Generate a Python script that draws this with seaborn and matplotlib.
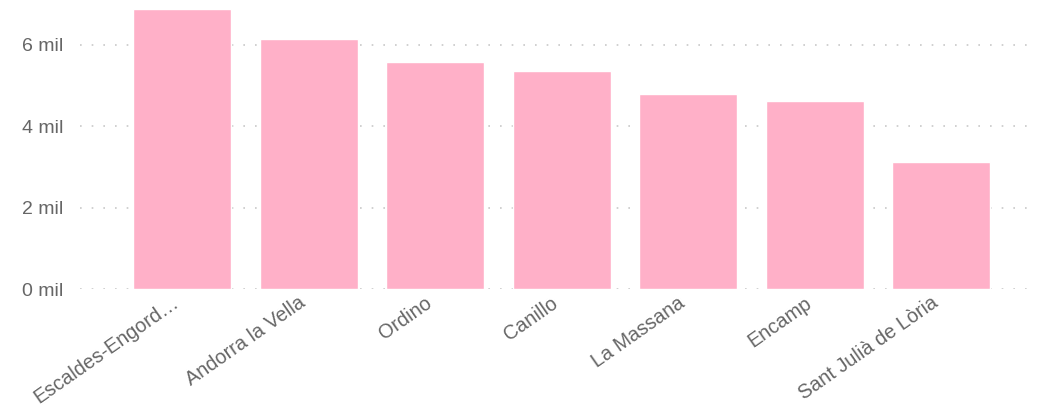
import matplotlib
matplotlib.use("Agg")
import matplotlib.pyplot as plt
import seaborn as sns
import pandas as pd

categories = ["Escaldes-Engord…", "Andorra la Vella", "Ordino", "Canillo",
              "La Massana", "Encamp", "Sant Julià de Lòria"]
values = [6885, 6150, 5580, 5360, 4790, 4620, 3120]
yticks = [0, 2000, 4000, 6000]
ytick_labels = ["0 mil", "2 mil", "4 mil", "6 mil"]

sns.set_theme(style="white")
plt.rcParams['font.family'] = ['Liberation Sans', 'DejaVu Sans']

fig = plt.figure(figsize=(10.42, 4.09), dpi=100)
ax = fig.add_axes([80/1042, 1-289/409, (1030-80)/1042, (289-4.3)/409])

df = pd.DataFrame({"cat": categories, "val": values})
sns.barplot(data=df, x="cat", y="val", color="#FFB0C8", saturation=1,
            width=0.775, ax=ax, zorder=2)

ax.set_ylim(0, 7000)
ax.set_xlim(-0.806, 6.7)
ax.set_yticks(yticks)
ax.set_yticklabels(ytick_labels, fontsize=14, color="#666666")
ax.set_xlabel("")
ax.set_ylabel("")
# labels sit slightly left of the bar centres, as in the reference
ax.set_xticks([i - 0.085 for i in range(len(categories))])
ax.set_xticklabels(categories, rotation=35, ha="right", rotation_mode="anchor",
                   fontsize=14.3, color="#666666")
ax.tick_params(axis="both", length=0)
ax.tick_params(axis="x", pad=3)
ax.tick_params(axis="y", pad=12)
for s in ax.spines.values():
    s.set_visible(False)
ax.yaxis.grid(True, color="#C8C8C8", linestyle=(0, (1, 6)), linewidth=1.2, zorder=1)
ax.xaxis.grid(False)
ax.set_axisbelow(True)

fig.savefig("out.png", dpi=100)
